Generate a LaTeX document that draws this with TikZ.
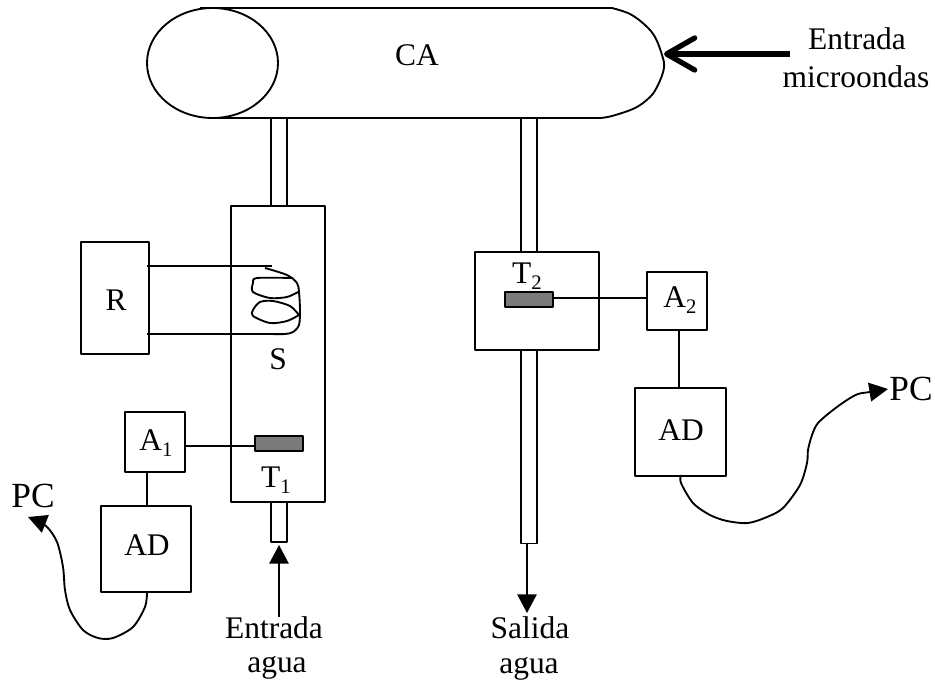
\documentclass[tikz,border=0pt]{standalone}
\usepackage{fontspec}
\setmainfont{Liberation Serif}
\usetikzlibrary{arrows.meta,calc,shapes.geometric}
\tikzset{
  px/.style={x=0.75pt,y=-0.75pt},
  ln/.style={line width=1.4pt,line join=round},
  boxn/.style 2 args={draw,ln,rectangle,inner sep=0pt,minimum width=#1*0.75pt,minimum height=#2*0.75pt},
  sensor/.style 2 args={boxn={#1}{#2},fill=black!52},
  lab/.style={inner sep=0pt,anchor=base,font=\fontsize{23.6}{28}\selectfont},
  labbig/.style={inner sep=0pt,anchor=base,font=\fontsize{26.5}{30}\selectfont},
  headS/.style={-{Triangle[length=14pt,width=14pt]}},
}
\newcommand{\sbx}[1]{\raisebox{-0.22em}{\fontsize{15.5}{18}\selectfont #1}}
\begin{document}
\begin{tikzpicture}[px]
\useasboundingbox (0,0) rectangle (935,681);
% cavity
\node[draw,ln,ellipse,inner sep=0pt,minimum width=131*0.75pt,minimum height=110*0.75pt] (ell) at (212.5,63) {};
\draw[ln] (200,8) -- (612,8);
\draw[ln] (213,118) -- (600,118);
\draw[ln] plot[smooth,tension=0.6] coordinates {(612,8) (630,14) (645,25) (655,37) (662,55) (664,68) (658,85) (650,97) (635,108) (612,116) (600,118)};
\node[lab] (ca) at (417,66) {CA};
% pipes
\node[boxn={16}{87}] (p1) at (279,162) {};
\node[boxn={16}{133}] (p2) at (529,185) {};
\node[boxn={16}{193}] (p3) at (529,447) {};
\node[boxn={16}{40}] (p4) at (279,522) {};
% boxes
\node[boxn={94}{296},fill=white] (S) at (278,354) {};
\node[boxn={124}{98},fill=white] (T2) at (537,301) {};
\node[boxn={68}{112}] (R) at (115,298) {};
\node[boxn={60}{60}] (A1) at (155,442) {};
\node[boxn={90}{86}] (AD1) at (146,549) {};
\node[boxn={60}{58}] (A2) at (677,301) {};
\node[boxn={91}{88}] (AD2) at (680.5,432) {};
\node[sensor={48}{15}] (s1) at (279,443.5) {};
\node[sensor={48}{15}] (s2) at (529,299.5) {};
% labels
\node[lab] (lR) at (116,310) {R};
\node[lab] (lS) at (278,369) {S};
\node[lab] at (156,450) {A\sbx{1}};
\node[lab] at (276,487) {T\sbx{1}};
\node[lab] at (527,283) {T\sbx{2}};
\node[lab] at (680,307) {A\sbx{2}};
\node[lab] at (147,555) {AD};
\node[lab] at (681,440) {AD};
\node[labbig] (pcL) at (33,507) {PC};
\node[labbig] (pcR) at (911,400) {PC};
\node[lab] (eM) at (857,50) {Entrada};
\node[lab] (mM) at (856,88) {microondas};
\node[lab] (eA) at (274,638) {Entrada};
\node[lab] (aA) at (277,672) {agua};
\node[lab] (sA) at (530,638) {Salida};
\node[lab] (aS) at (529,673) {agua};
% connectors
\coordinate (r1) at (147,266); \coordinate (c1) at (272,266);
\coordinate (r2) at (147,334); \coordinate (c2) at (270,334);
\draw[ln] (r1) -- (c1);
\draw[ln] (r2) -- (c2);
\draw[ln] plot[smooth,tension=0.5] coordinates {(265,268) (287,275) (297,283) (299,292) (300,310) (299,325) (293,332) (285,334) (270,334)};
\draw[ln] plot[smooth,tension=0.5] coordinates {(293,278) (257,278) (253,283) (253,292) (270,298) (287,297) (298,292)};
\draw[ln] plot[smooth,tension=0.5] coordinates {(299,315) (290,306) (273,301) (260,302) (253,310) (253,316) (270,323) (287,321) (299,315)};
\draw[ln] (A1.east |- 0,446) -- (s1.west |- 0,446);
\draw[ln] (A1.south -| 147,0) -- (AD1.north -| 147,0);
\draw[ln] (s2.east |- 0,298) -- (A2.west |- 0,298);
\draw[ln] (A2.south -| 679,0) -- (AD2.north -| 679,0);
\coordinate (t1) at (279,545); \coordinate (f1) at (279,617);
\draw[ln,-{Triangle[length=14pt,width=14.5pt]}] (f1) -- (t1);
\coordinate (t2) at (527,613);
\draw[ln,-{Triangle[length=14pt,width=14.5pt]}] (p3.south -| t2) -- (t2);
\coordinate (mw1) at (790,54); \coordinate (mw2) at (664,54);
\draw[line width=4pt,-{Straight Barb[length=21pt,width=24pt,round]}] (mw1) -- (mw2);
\draw[ln,headS] plot[smooth,tension=0.5] coordinates {(147,593) (145,607) (133,627) (113,638) (98,638) (83,630) (70,610) (65,590) (63,567) (57,542) (46,526) (28,517)};
\draw[ln,headS] plot[smooth,tension=0.5] coordinates {(681,475) (681,483) (693,503) (710,515) (727,521) (748,523) (767,517) (783,508) (800,485) (807,463) (808,450) (812,435) (818,423) (833,410) (847,400) (858,394) (870,392) (888,389)};
\end{tikzpicture}
\end{document}
